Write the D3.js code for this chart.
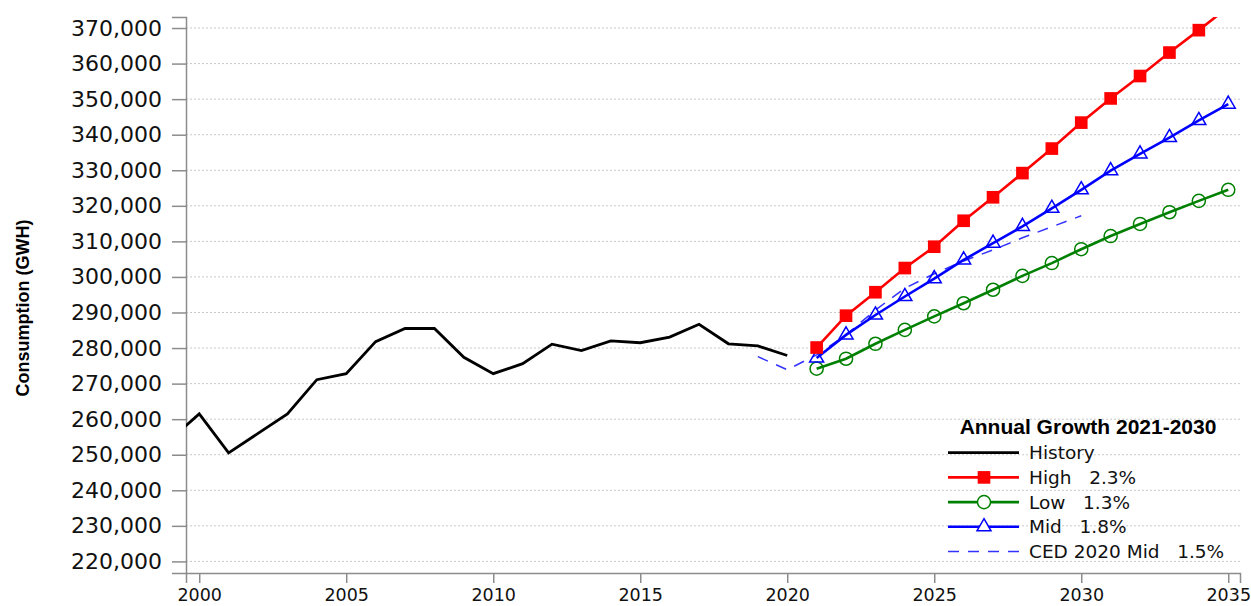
<!DOCTYPE html>
<html>
<head>
<meta charset="utf-8">
<script src="https://cdn.jsdelivr.net/npm/d3@7"></script>
<style>
  body { margin: 0; background: #fff; }
  text { white-space: pre; }
</style>
</head>
<body>
<div id="chart"></div>
<script>
// history 1999-2020, forecasts 2021-2035 (GWh)
const historyYears = d3.range(1999, 2021);
const historyValues = [254200, 261500, 250500, 256000, 261500, 271100, 272800, 281800, 285500, 285500,
  277400, 272800, 275600, 281100, 279300, 282000, 281500, 283100, 286700, 281200, 280600, 277900];

const forecastYears = d3.range(2021, 2036);
const highValues = [280150, 289100, 295700, 302500, 308500, 315800, 322400, 329200, 336100, 343400,
  350200, 356500, 363100, 369400, 375900];
const lowValues = [274200, 277000, 281200, 285100, 288900, 292600, 296400, 300300, 303900, 307800,
  311500, 314900, 318200, 321400, 324500];
const midValues = [277200, 283700, 289300, 294500, 299500, 304800, 309500, 314200, 319300, 324500,
  329900, 334600, 339200, 344000, 348600];

const cedYears = d3.range(2019, 2031);
const cedValues = [277600, 273900, 278100, 283700, 290700, 296800, 300900, 304500, 307600, 311000, 314100, 317200];

const yTicks = d3.range(220000, 370001, 10000);
const xTicks = [2000, 2005, 2010, 2015, 2020, 2025, 2030, 2035];

const legendTitle = "Annual Growth 2021-2030";
const legendLabels = ["History", "High   2.3%", "Low   1.3%", "Mid   1.8%", "CED 2020 Mid   1.5%"];

document.addEventListener('DOMContentLoaded', function () {
  const W = 1251, H = 606;
  const margin = { top: 17, right: 11, bottom: 33, left: 186 };
  const width = W - margin.left - margin.right;
  const height = H - margin.top - margin.bottom;

  const svg = d3.select("#chart").append("svg")
    .attr("width", W)
    .attr("height", H);

  const g = svg.append("g")
    .attr("transform", `translate(${margin.left},${margin.top})`);

  const x = d3.scaleLinear().domain([1999.55, 2035.4]).range([0, width]);
  const y = d3.scaleLinear().domain([216740, 373100]).range([height, 0]);

  svg.append("defs").append("clipPath").attr("id", "plot")
    .append("rect").attr("width", width).attr("height", height);

  // dotted gridlines
  g.append("g").selectAll("line")
    .data(yTicks)
    .enter().append("line")
    .attr("x1", 0).attr("x2", width)
    .attr("y1", d => y(d)).attr("y2", d => y(d))
    .style("stroke", "#c8c8c8")
    .style("stroke-width", 1)
    .style("stroke-dasharray", "2,2");

  // y axis
  const yAxis = g.append("g")
    .call(d3.axisLeft(y).tickValues(yTicks).tickFormat(d3.format(",")).tickSize(14).tickPadding(10));
  yAxis.selectAll("text")
    .style("font-family", "DejaVu Sans, Verdana, sans-serif")
    .style("font-size", "22px")
    .style("fill", "#111");

  // x axis
  const xAxis = g.append("g")
    .attr("transform", `translate(0,${height})`)
    .call(d3.axisBottom(x).tickValues(xTicks).tickFormat(d3.format("d")).tickSize(10).tickPadding(6));
  xAxis.selectAll("text")
    .style("font-family", "DejaVu Sans, Verdana, sans-serif")
    .style("font-size", "17.5px")
    .style("fill", "#111");

  [yAxis, xAxis].forEach(a => {
    a.select(".domain").style("stroke", "#8c8c8c").style("stroke-width", 1.5);
    a.selectAll(".tick line").style("stroke", "#8c8c8c").style("stroke-width", 1.5);
  });

  // y axis title
  svg.append("text")
    .attr("transform", "translate(23,308) rotate(-90)")
    .attr("text-anchor", "middle")
    .attr("dy", "0.35em")
    .style("font-family", "Liberation Sans, Arial, sans-serif")
    .style("font-weight", "bold")
    .style("font-size", "18px")
    .text("Consumption (GWH)");

  const plot = g.append("g").attr("clip-path", "url(#plot)");

  const line = d3.line().x(d => x(d[0])).y(d => y(d[1]));
  const pairs = (years, vals) => years.map((yr, i) => [yr, vals[i]]);

  const series = [
    { years: historyYears, values: historyValues, color: "#000000", width: 2.8, dash: null, symbol: null },
    { years: cedYears, values: cedValues, color: "#3333ff", width: 1.5, dash: "11,9", symbol: null },
    { years: forecastYears, values: lowValues, color: "#008000", width: 2.6, dash: null, symbol: d3.symbolCircle, size: 135, fill: "none" },
    { years: forecastYears, values: midValues, color: "#0000ff", width: 2.6, dash: null, symbol: d3.symbolTriangle, size: 85, fill: "none" },
    { years: forecastYears, values: highValues, color: "#ff0000", width: 2.6, dash: null, symbol: d3.symbolSquare, size: 160, fill: "#ff0000" }
  ];

  series.forEach(s => {
    const pts = pairs(s.years, s.values);
    plot.append("path")
      .datum(pts)
      .attr("d", line)
      .style("fill", "none")
      .style("stroke", s.color)
      .style("stroke-width", s.width)
      .style("stroke-dasharray", s.dash);
    if (s.symbol) {
      plot.selectAll(null)
        .data(pts)
        .enter().append("path")
        .attr("transform", d => `translate(${x(d[0])},${y(d[1])})`)
        .attr("d", d3.symbol().type(s.symbol).size(s.size))
        .style("fill", s.fill)
        .style("stroke", s.color)
        .style("stroke-width", s.symbol === d3.symbolSquare ? 0 : 1.5);
    }
  });

  // legend
  const legend = svg.append("g").attr("class", "legend");
  legend.append("text")
    .attr("x", 1088).attr("y", 427)
    .attr("dy", "0.35em")
    .attr("text-anchor", "middle")
    .style("font-family", "Liberation Sans, Arial, sans-serif")
    .style("font-weight", "bold")
    .style("font-size", "21px")
    .text(legendTitle);

  const legendOrder = [0, 4, 2, 3, 1];
  legendOrder.forEach((si, i) => {
    const s = series[si];
    const row = legend.append("g")
      .attr("transform", `translate(0,${452.7 + i * 24.7})`);
    row.append("line")
      .attr("x1", 948).attr("x2", 1019)
      .style("stroke", s.color)
      .style("stroke-width", s.width)
      .style("stroke-dasharray", s.dash);
    if (s.symbol) {
      row.append("path")
        .attr("transform", "translate(984,0)")
        .attr("d", d3.symbol().type(s.symbol).size(s.size))
        .style("fill", s.fill === "none" ? "#fff" : s.fill)
        .style("stroke", s.color)
        .style("stroke-width", s.symbol === d3.symbolSquare ? 0 : 1.5);
    }
    row.append("text")
      .attr("x", 1029).attr("y", 0)
      .attr("dy", "0.35em")
      .style("font-family", "DejaVu Sans, Verdana, sans-serif")
      .style("font-size", "18.5px")
      .style("fill", "#111")
      .text(legendLabels[i]);
  });
});
</script>
</body>
</html>
